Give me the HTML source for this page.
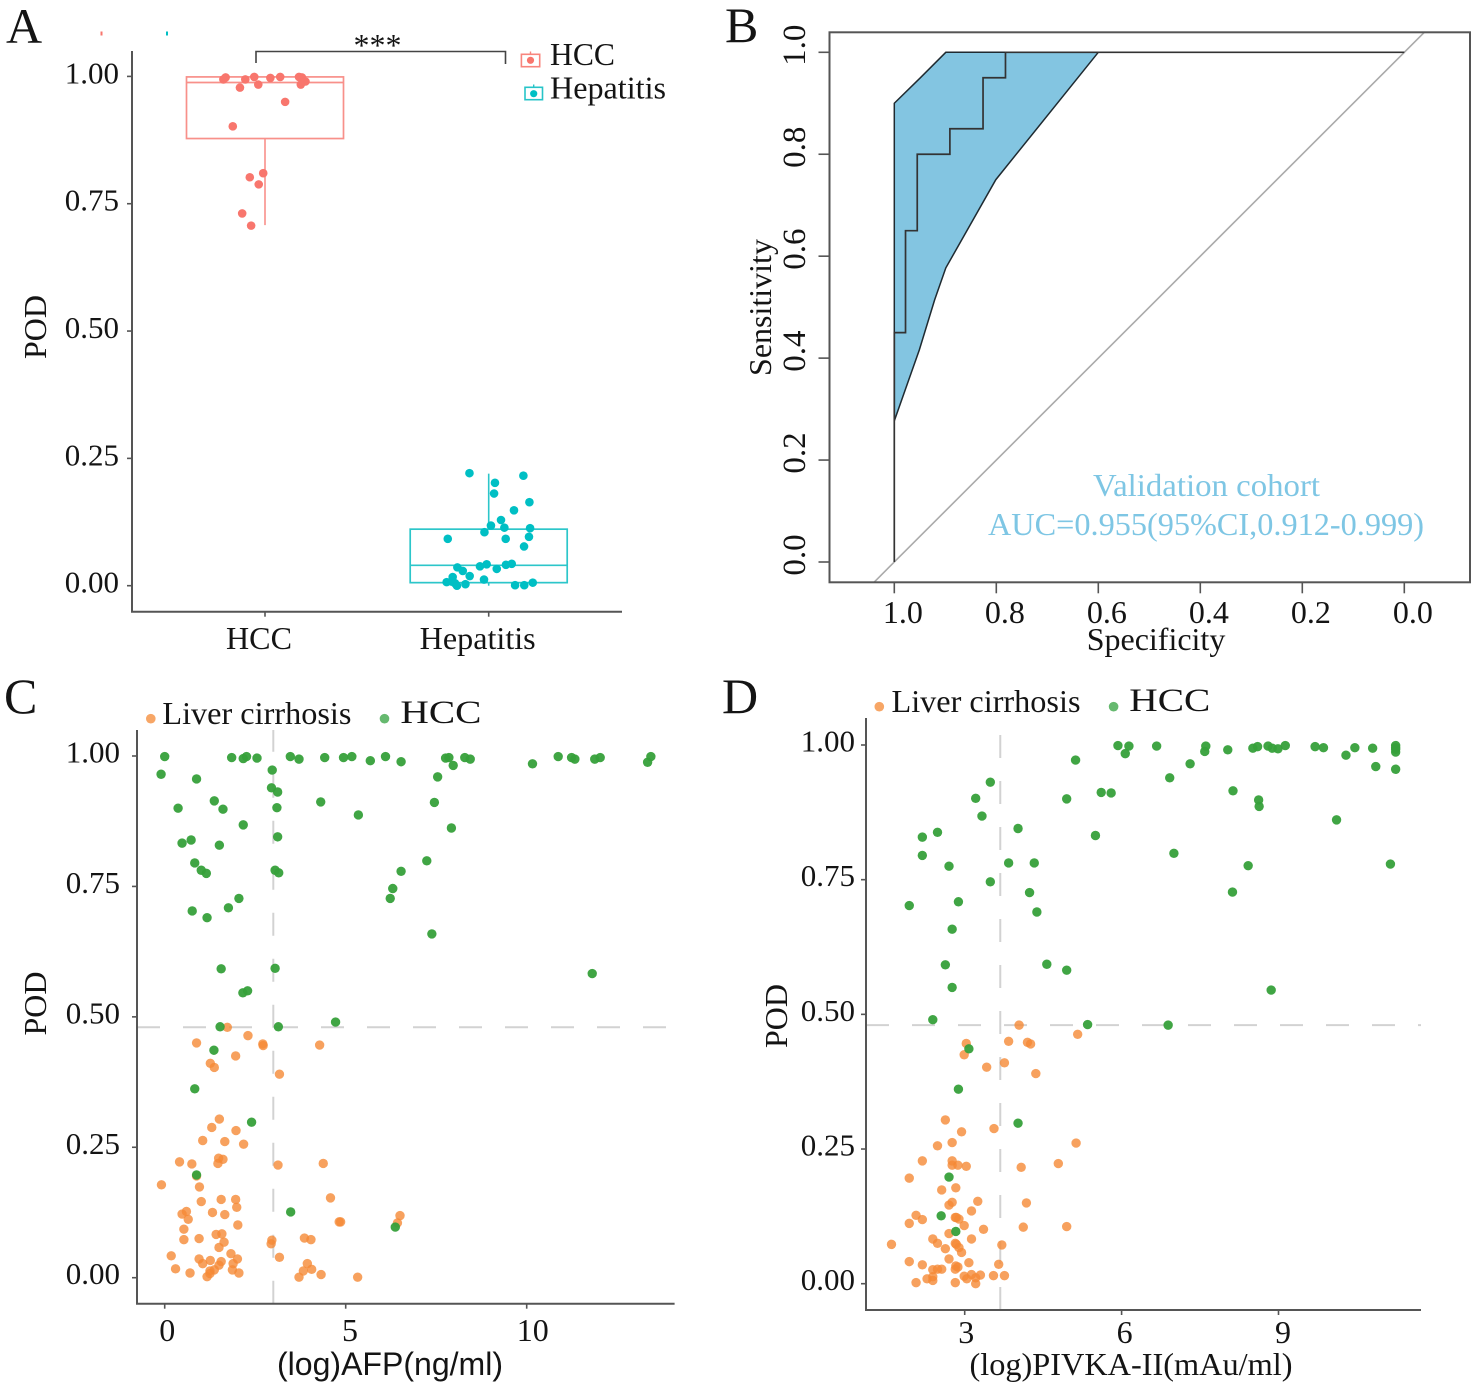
<!DOCTYPE html>
<html lang="en">
<head>
<meta charset="utf-8">
<title>POD validation figure</title>
<style>
html,body{margin:0;padding:0;background:#fff;}
#figure{display:block;width:1477px;height:1389px;background:#fff;}
text{font-family:"Liberation Serif",serif;fill:#141414;}
</style>
</head>
<body>
<svg id="figure" xmlns="http://www.w3.org/2000/svg" width="1477" height="1389" viewBox="0 0 1477 1389">
  <g id="panel-a">
    <text x="6" y="43" font-size="50">A</text>
    <rect x="100.5" y="31.5" width="2" height="4" fill="#f8766d"/>
    <rect x="166" y="31.5" width="2" height="4" fill="#00bfc4"/>
    <text transform="translate(46,327) rotate(-90)" text-anchor="middle" font-size="32">POD</text>
    <path d="M256 63V51.5H505.5V64" fill="none" stroke="#444" stroke-width="1.6"/>
    <text x="377.5" y="56" text-anchor="middle" font-size="32" fill="#333">***</text>
    <g>
      <path d="M530.5 51.5V54.3" stroke="#f8857d" stroke-width="1.4"/>
      <rect x="521.4" y="54.3" width="18.3" height="12.4" fill="#fff" stroke="#f8857d" stroke-width="1.6"/>
      <circle cx="530.5" cy="60.3" r="3.6" fill="#f8766d"/>
      <text x="550" y="65" font-size="32" textLength="65" lengthAdjust="spacingAndGlyphs">HCC</text>
    </g>
    <g>
      <path d="M533.7 84.5V87.3" stroke="#27c4c8" stroke-width="1.4"/>
      <rect x="525" y="87.3" width="17.5" height="12.4" fill="#fff" stroke="#27c4c8" stroke-width="1.6"/>
      <circle cx="533.7" cy="93.7" r="3.6" fill="#00bfc4"/>
      <text x="550" y="98.3" font-size="32" textLength="116" lengthAdjust="spacingAndGlyphs">Hepatitis</text>
    </g>
  </g>
  <g id="panel-b">
    <text x="725" y="42" font-size="50">B</text>
    <text transform="translate(771,307.5) rotate(-90)" text-anchor="middle" font-size="32">Sensitivity</text>
    <text x="1156" y="650" text-anchor="middle" font-size="32">Specificity</text>
    <text x="1206.5" y="496" text-anchor="middle" font-size="32" textLength="227" lengthAdjust="spacingAndGlyphs" style="fill:#7ec6e4">Validation cohort</text>
    <text x="1206" y="535" text-anchor="middle" font-size="32" textLength="436" lengthAdjust="spacingAndGlyphs" style="fill:#7ec6e4">AUC=0.955(95%CI,0.912-0.999)</text>
  </g>
  <g id="panel-c">
    <text x="4" y="713" font-size="50">C</text>
    <text transform="translate(46,1003.5) rotate(-90)" text-anchor="middle" font-size="32">POD</text>
    <text x="390" y="1375" text-anchor="middle" font-size="32" textLength="226" lengthAdjust="spacingAndGlyphs" style="font-family:'Liberation Sans',sans-serif">(log)AFP(ng/ml)</text>
    <circle cx="150.8" cy="718.7" r="4.8" fill="#f7a666"/>
    <text x="162.4" y="724" font-size="32" textLength="189" lengthAdjust="spacingAndGlyphs">Liver cirrhosis</text>
    <circle cx="384.5" cy="718.7" r="4.8" fill="#66b96f"/>
    <text x="400.4" y="723" font-size="33" textLength="81" lengthAdjust="spacingAndGlyphs">HCC</text>
  </g>
  <g id="panel-d">
    <text x="722" y="713" font-size="50">D</text>
    <text transform="translate(787,1016) rotate(-90)" text-anchor="middle" font-size="32">POD</text>
    <text x="1131" y="1375" text-anchor="middle" font-size="32" textLength="323" lengthAdjust="spacingAndGlyphs">(log)PIVKA-II(mAu/ml)</text>
    <circle cx="879.3" cy="706.7" r="4.8" fill="#f7a666"/>
    <text x="891.5" y="712" font-size="32" textLength="189" lengthAdjust="spacingAndGlyphs">Liver cirrhosis</text>
    <circle cx="1113.6" cy="706.7" r="4.8" fill="#66b96f"/>
    <text x="1129.3" y="711" font-size="33" textLength="81" lengthAdjust="spacingAndGlyphs">HCC</text>
  </g>
</svg>
<script>
/* ---------- Panel A data ---------- */
const aCategories = ['HCC', 'Hepatitis'];
const aTickValues = [0, 0.25, 0.5, 0.75, 1];
const aTickLabels = ['0.00', '0.25', '0.50', '0.75', '1.00'];
const aHccBox = [0.708, 0.878, 0.988, 0.999, 0.999];
const aHepBox = [0.0, 0.006, 0.04, 0.111, 0.22];
const aHccJitter = [-.176,-.186,-.088,-.048,.024,.068,.152,.165,.181,.160,-.030,-.112,.090,-.144,-.008,-.068,-.028,-.102,-.062];
const aHccPod = [.998,.994,.994,.999,.997,.999,.999,.998,.990,.984,.984,.978,.950,.902,.810,.802,.788,.731,.707];
const aHepJitter = [-.086,.155,.028,.024,.182,.113,.055,.010,.070,.185,-.019,.180,.076,-.183,.158,.103,.077,-.009,-.039,-.140,.036,-.116,-.085,-.161,-.021,-.188,-.165,-.151,-.142,-.104,.118,.159,.197];
const aHepPod = [.221,.216,.202,.181,.164,.148,.129,.118,.114,.113,.105,.096,.092,.092,.077,.043,.041,.042,.038,.036,.033,.029,.019,.017,.012,.007,.008,.005,.000,.003,.001,.001,.006];

/* ---------- Panel B data ---------- */
const bTickValues = [0, 0.2, 0.4, 0.6, 0.8, 1];
const bTickLabels = ['0.0', '0.2', '0.4', '0.6', '0.8', '1.0'];
const rocSpec = [1, 1, .978, .978, .955, .955, .891, .891, .826, .826, .782, .782, 0];
const rocSens = [0, .45, .45, .65, .65, .80, .80, .85, .85, .95, .95, 1, 1];
const ciSpec = [1, .949, .899, .600, .801, .899, .921, .951, 1];
const ciSens = [.90, .95, 1, 1, .75, .577, .514, .416, .277];
const diagonalEnds = [1.04, -0.04];

/* ---------- Panel C data ---------- */
const cXTicks = [0, 5, 10];
const cYTicks = [0, 0.25, 0.5, 0.75, 1];
const cYTickLabels = ['0.00', '0.25', '0.50', '0.75', '1.00'];
const cCutoffX = [3];
const cCutoffY = [0.48];
const cCirrhosisAfp = [1.73,2.30,.88,2.71,2.72,4.28,1.96,1.26,1.37,3.17,1.51,1.30,1.97,1.05,1.66,2.18,.41,.75,1.49,1.61,1.47,3.13,4.38,.88,-.09,.96,1.01,1.56,1.96,1.99,4.58,.60,.48,.65,1.32,1.66,2.02,.53,1.42,1.58,.53,.95,1.64,1.50,2.96,2.94,3.86,4.04,4.82,4.86,6.50,6.43,.18,1.83,2.01,.95,1.05,1.26,1.56,1.50,1.89,1.37,1.25,1.87,2.05,.30,.70,1.25,1.17,3.17,3.94,4.06,3.83,4.32,3.71,5.33];
const cCirrhosisPod = [.480,.464,.450,.448,.445,.446,.425,.411,.403,.390,.304,.288,.282,.263,.261,.256,.222,.218,.229,.227,.219,.216,.219,.195,.178,.174,.146,.150,.150,.135,.153,.127,.122,.112,.125,.121,.101,.093,.083,.084,.073,.075,.068,.058,.072,.065,.076,.073,.107,.107,.119,.105,.042,.046,.036,.036,.027,.033,.031,.024,.027,.015,.013,.015,.009,.017,.009,.008,.002,.039,.027,.016,.013,.006,.001,.001];
const cHccAfp = [0,-.10,.88,1.85,2.17,2.26,2.55,2.97,2.95,3.12,1.37,.37,1.61,3.10,2.17,.48,.73,1.51,3.12,.83,1.01,1.15,3.05,3.15,.76,1.17,1.76,2.05,1.56,3.05,2.16,2.29,4.72,1.53,3.14,3.47,3.71,4.42,4.94,5.17,5.68,6.10,6.53,7.76,7.85,8.29,8.44,7.97,7.54,7.45,7.92,7.24,6.53,6.30,6.23,7.38,4.31,5.35,10.16,10.87,11.24,11.33,11.88,12.03,13.34,13.43,11.81,1.36,.83,2.40,.88,3.48,6.37];
const cHccPod = [.999,.965,.956,.997,.995,.999,.996,.973,.939,.931,.914,.900,.898,.901,.868,.833,.839,.829,.845,.795,.781,.775,.781,.776,.703,.690,.709,.727,.592,.593,.546,.550,.490,.481,.481,.999,.994,.997,.997,.999,.991,.999,.989,.996,.997,.997,.994,.982,.960,.911,.862,.799,.779,.746,.727,.659,.912,.887,.985,.999,.997,.994,.994,.997,.988,.999,.583,.436,.362,.298,.197,.126,.097];

/* ---------- Panel D data ---------- */
const dXTicks = [3, 6, 9];
const dYTicks = [0, 0.25, 0.5, 0.75, 1];
const dYTickLabels = ['0.00', '0.25', '0.50', '0.75', '1.00'];
const dCutoffX = [3.68];
const dCutoffY = [0.48];
const dCirrhosisPivka = [4.04,5.16,3.03,3.84,4.20,4.26,2.99,3.76,3.42,4.36,2.63,2.94,3.56,2.76,2.48,5.13,2.19,2.76,2.76,2.87,3.03,4.08,4.79,1.94,2.83,2.56,2.76,2.70,3.25,4.18,3.13,2.07,2.19,2.82,2.84,2.89,1.94,2.99,3.36,4.12,4.95,2.70,2.39,3.13,2.48,2.82,2.84,3.71,1.60,2.89,2.63,2.94,2.70,1.94,3.08,3.65,2.19,2.39,2.48,2.56,2.83,2.87,2.82,3.13,2.99,3.04,3.30,3.21,3.55,3.76,2.28,2.39,2.39,2.07,2.82,3.21];
const dCirrhosisPod = [.480,.463,.446,.450,.448,.445,.425,.410,.402,.390,.304,.282,.288,.262,.256,.261,.228,.228,.220,.220,.218,.216,.223,.196,.178,.174,.151,.146,.153,.150,.135,.127,.119,.123,.123,.120,.112,.108,.101,.105,.106,.093,.083,.083,.075,.075,.073,.072,.073,.067,.065,.058,.046,.041,.039,.036,.035,.026,.027,.027,.033,.031,.027,.017,.014,.009,.016,.011,.015,.015,.009,.013,.006,.002,.002,.000];
const dHccPivka = [5.93,6.14,6.07,6.67,7.61,7.59,8.03,8.51,8.60,8.80,8.88,8.99,9.13,9.70,9.86,10.29,10.46,10.80,11.24,11.24,11.24,11.24,10.86,11.24,5.12,7.31,6.92,8.13,8.62,8.63,5.61,5.80,4.95,3.49,3.21,3.33,4.02,2.48,2.19,2.19,5.50,2.70,3.84,4.33,3.49,7.00,8.42,11.14,10.11,8.12,4.24,2.88,1.94,4.38,2.76,2.63,4.57,4.95,2.76,8.86,2.39,5.35,6.89,3.08,2.88,4.02,2.70,2.55,2.83];
const dHccPod = [.999,.998,.984,.998,.998,.988,.991,.994,.997,.998,.994,.993,.999,.997,.995,.981,.995,.994,.999,.995,.992,.987,.960,.955,.972,.965,.939,.915,.898,.886,.912,.911,.900,.931,.901,.868,.845,.838,.829,.795,.832,.775,.781,.781,.746,.799,.776,.779,.861,.727,.726,.709,.702,.690,.658,.592,.593,.582,.550,.545,.490,.481,.480,.436,.361,.298,.198,.126,.097];

/* ---------- Drawing ---------- */
const SVGNS = 'http://www.w3.org/2000/svg';
const AXIS = '#555';
function mk(tag, attrs, parent) {
  const el = document.createElementNS(SVGNS, tag);
  for (const k in attrs) el.setAttribute(k, attrs[k]);
  parent.appendChild(el);
  return el;
}
function tx(str, attrs, parent) {
  const el = mk('text', attrs, parent);
  el.textContent = str;
  return el;
}

/* Panel A */
(function () {
  const p = document.getElementById('panel-a');
  const y = v => 585.7 - 509.3 * v;
  const x = c => 265 + 223.7 * c;
  const left = 132, bottom = 611.7, right = 622, top = 51;

  let el = mk('path', { d: `M${left} ${top}V${bottom}H${right}`, fill: 'none', stroke: AXIS, 'stroke-width': 2 }, p);
  
  

  aTickValues.forEach((v, i) => {
    const t = mk('line', { x1: left - 5, x2: left, y1: y(v), y2: y(v), stroke: AXIS, 'stroke-width': 1.6 }, p);
    
    
    const l = tx(aTickLabels[i], { x: 119, y: y(v) + 7, 'text-anchor': 'end', 'font-size': 31 }, p);
    
    
  });
  aCategories.forEach((c, i) => {
    const t = mk('line', { x1: x(i), x2: x(i), y1: bottom, y2: bottom + 5, stroke: AXIS, 'stroke-width': 1.6 }, p);
    
    
    const l = tx(c, { x: x(i) - 6 - 5 * i, y: 649, 'text-anchor': 'middle', 'font-size': 32, textLength: i ? 116 : 66, lengthAdjust: 'spacingAndGlyphs' }, p);
    
    
  });

  function box(stats, cat, color, name) {
    const g = mk('g', {}, p);
    
    
    const hw = 78.5, cx = x(cat);
    const r = mk('rect', { x: cx - hw, y: y(stats[3]), width: 2 * hw, height: y(stats[1]) - y(stats[3]), fill: 'none', stroke: color, 'stroke-width': 1.7 }, g);
    
    
    const m = mk('line', { x1: cx - hw, x2: cx + hw, y1: y(stats[2]), y2: y(stats[2]), stroke: color, 'stroke-width': 1.7 }, g);
    
    
    const w1 = mk('line', { x1: cx, x2: cx, y1: y(stats[0]), y2: y(stats[1]), stroke: color, 'stroke-width': 1.6 }, g);
    
    
    const w2 = mk('line', { x1: cx, x2: cx, y1: y(stats[3]), y2: y(stats[4]), stroke: color, 'stroke-width': 1.6 }, g);
    
    
  }
  box(aHccBox, 0, '#f8908a', 'box-hcc');
  box(aHepBox, 1, '#2cc6ca', 'box-hepatitis');

  aHccPod.forEach((v, i) => {
    const c = mk('circle', { cx: x(aHccJitter[i]), cy: y(v), r: 4.3, fill: '#f8766d' }, p);
    
    
  });
  aHepPod.forEach((v, i) => {
    const c = mk('circle', { cx: x(1 + aHepJitter[i]), cy: y(v), r: 4.3, fill: '#00bfc4' }, p);
    
    
  });
})();

/* Panel B */
(function () {
  const p = document.getElementById('panel-b');
  const x = v => 1404.3 - 510 * v;
  const y = v => 562 - 509.7 * v;
  const left = 829.5, right = 1470, top = 32.3, bottom = 582.3;

  const poly = mk('polygon', { points: ciSpec.map((s, i) => x(s) + ',' + y(ciSens[i])).join(' '), fill: '#83c5e1', stroke: '#1f2a30', 'stroke-width': 1.5 }, p);
  
  

  const diag = mk('line', { x1: x(diagonalEnds[0]), y1: y(1 - diagonalEnds[0]), x2: x(diagonalEnds[1]), y2: y(1 - diagonalEnds[1]), stroke: '#aaa', 'stroke-width': 1.6 }, p);
  
  

  const roc = mk('polyline', { points: rocSpec.map((s, i) => x(s) + ',' + y(rocSens[i])).join(' '), fill: 'none', stroke: '#333', 'stroke-width': 1.7 }, p);
  
  

  const frame = mk('rect', { x: left, y: top, width: right - left, height: bottom - top, fill: 'none', stroke: AXIS, 'stroke-width': 2 }, p);
  
  

  bTickValues.forEach((v, i) => {
    const t = mk('line', { x1: left - 11, x2: left, y1: y(v), y2: y(v), stroke: AXIS, 'stroke-width': 1.6 }, p);
    
    
    const l = tx(bTickLabels[i], { transform: `translate(804.8,${y(v) - 7}) rotate(-90)`, 'text-anchor': 'middle', 'font-size': 33 }, p);
    
    
    const tb = mk('line', { x1: x(v), x2: x(v), y1: bottom, y2: bottom + 11, stroke: AXIS, 'stroke-width': 1.6 }, p);
    
    
    const lb = tx(bTickLabels[i], { x: x(v) + 8.6, y: 623, 'text-anchor': 'middle', 'font-size': 32 }, p);
    
    
  });
})();

/* Scatter panels C and D */
function scatter(cfg) {
  const p = document.getElementById(cfg.id);
  const x = cfg.x, y = cfg.y;

  const hl = mk('line', { x1: cfg.left, x2: cfg.right, y1: y(cfg.cutY), y2: y(cfg.cutY), stroke: '#d2d2d2', 'stroke-width': 2, 'stroke-dasharray': '23 23' }, p);
  
  
  const vl = mk('line', { x1: x(cfg.cutX), x2: x(cfg.cutX), y1: cfg.bottom, y2: cfg.top, stroke: '#d2d2d2', 'stroke-width': 2, 'stroke-dasharray': '23 23' }, p);
  
  

  const ax = mk('path', { d: `M${cfg.left} ${cfg.top}V${cfg.bottom}H${cfg.right}`, fill: 'none', stroke: AXIS, 'stroke-width': 2 }, p);
  
  

  cfg.yTicks.forEach((v, i) => {
    const t = mk('line', { x1: cfg.left - 5, x2: cfg.left, y1: y(v), y2: y(v), stroke: AXIS, 'stroke-width': 1.6 }, p);
    
    
    const l = tx(cfg.yLabels[i], { x: cfg.yLabelX, y: y(v) + 6.5, 'text-anchor': 'end', 'font-size': 31 }, p);
    
    
  });
  cfg.xTicks.forEach(v => {
    const t = mk('line', { x1: x(v), x2: x(v), y1: cfg.bottom, y2: cfg.bottom + 5, stroke: AXIS, 'stroke-width': 1.6 }, p);
    
    
    const l = tx(String(v), { x: x(v) + cfg.xLabelOffset(v), y: cfg.xLabelY, 'text-anchor': 'middle', 'font-size': 32 }, p);
    
    
  });

  cfg.orangeX.forEach((v, i) => {
    const c = mk('circle', { cx: x(v), cy: y(cfg.orangeY[i]), r: 4.7, fill: '#f58a36', 'fill-opacity': 0.8 }, p);
    
    
  });
  cfg.greenX.forEach((v, i) => {
    const c = mk('circle', { cx: x(v), cy: y(cfg.greenY[i]), r: 4.7, fill: '#36a03a', 'fill-opacity': 0.95 }, p);
    
    
  });
}

scatter({
  id: 'panel-c',
  x: v => 164.7 + 36.2 * v,
  y: v => 1277.7 - 521.7 * v,
  left: 137, right: 674.6, top: 730, bottom: 1303.7,
  yLabelX: 120, xLabelY: 1341,
  xLabelOffset: v => 2.5 + 0.35 * v,
  xTicks: cXTicks, yTicks: cYTicks, yLabels: cYTickLabels,
  cutX: cCutoffX[0], cutY: cCutoffY[0],
  orangeX: cCirrhosisAfp, orangeY: cCirrhosisPod,
  greenX: cHccAfp, greenY: cHccPod
});
scatter({
  id: 'panel-d',
  x: v => 964.7 + 52.3 * (v - 3),
  y: v => 1283.7 - 538.7 * v,
  left: 866, right: 1421, top: 718, bottom: 1310,
  yLabelX: 855, xLabelY: 1343,
  xLabelOffset: v => 0.5 * v,
  xTicks: dXTicks, yTicks: dYTicks, yLabels: dYTickLabels,
  cutX: dCutoffX[0], cutY: dCutoffY[0],
  orangeX: dCirrhosisPivka, orangeY: dCirrhosisPod,
  greenX: dHccPivka, greenY: dHccPod
});
</script>
</body>
</html>
